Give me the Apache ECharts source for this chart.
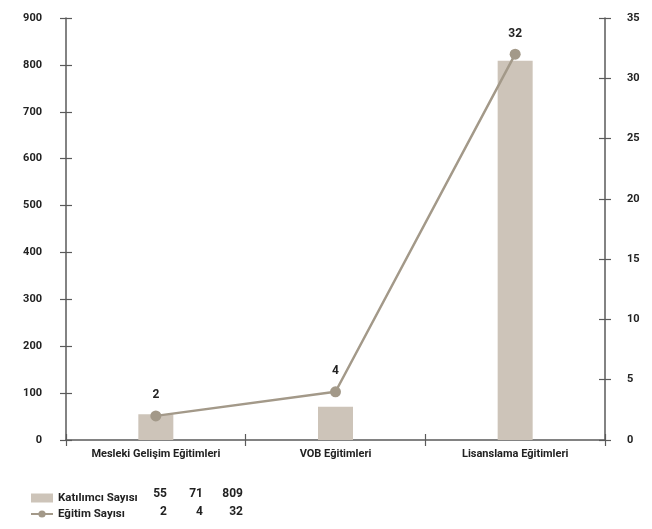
<!DOCTYPE html>
<html><head><meta charset="utf-8">
<script src="https://cdn.jsdelivr.net/npm/echarts@6/dist/echarts.min.js"></script>
<style>html,body{margin:0;padding:0;background:#fff}#c{width:652px;height:529px}</style>
</head><body><div id="c"></div>
<script>
const categories = ['Mesleki Gelişim Eğitimleri', 'VOB Eğitimleri', 'Lisanslama Eğitimleri'];
const participants = [55, 71, 809];
const trainings = [2, 4, 32];
const seriesNames = ['Katılımcı Sayısı', 'Eğitim Sayısı'];

const FONT = 'Roboto, sans-serif';
const W = 'bold';
const BAR = '#cdc4b9';
const LINE = '#a39989';
const AX = '#5a5a5a';

const chart = echarts.init(document.getElementById('c'));
const colX = [167, 203, 243];
const rowY = [495, 513];
const tableTexts = [];
[participants, trainings].forEach((arr, r) => {
  arr.forEach((v, i) => {
    tableTexts.push({
      type: 'text', right: 652 - colX[i], top: rowY[r] - 7,
      style: { text: String(v), font: 'bold 12px ' + FONT, fill: '#222' }
    });
  });
});

const yBase = {
  type: 'value', splitLine: { show: false },
  axisLine: { show: true, lineStyle: { color: AX, width: 1.5 } },
  axisTick: { show: true, length: 6, lineStyle: { color: AX, width: 1.2 } },
  axisLabel: { fontFamily: FONT, fontWeight: W, fontSize: 11, color: '#222', padding: [0, 0, 10, 0] }
};

chart.setOption({
  animation: false,
  textStyle: { fontFamily: FONT },
  grid: { left: 66, right: 47, top: 18, bottom: 89 },
  legend: {
    orient: 'vertical', left: 25, top: 487, itemGap: 4, itemWidth: 22, itemHeight: 9,
    textStyle: { fontFamily: FONT, fontWeight: W, fontSize: 11.5, color: '#222' },
    data: [{ name: seriesNames[0], icon: 'rect' }, seriesNames[1]]
  },
  xAxis: [{
    type: 'category', data: categories,
    axisLine: { lineStyle: { color: AX, width: 1.5 } },
    axisTick: { show: true, length: 6, lineStyle: { color: AX, width: 1.2 } },
    axisLabel: { interval: 0, margin: 9, fontFamily: FONT, fontWeight: W, fontSize: 11, color: '#222' }
  }, {
    type: 'category', data: categories, position: 'bottom',
    axisLine: { show: false },
    axisTick: { show: true, inside: true, length: 6, lineStyle: { color: AX, width: 1.2 } },
    axisLabel: { show: false }
  }],
  yAxis: [
    Object.assign({}, yBase, { min: 0, max: 900, interval: 100, position: 'left',
      axisLabel: Object.assign({}, yBase.axisLabel, { margin: 24 }) }),
    Object.assign({}, yBase, { min: 0, max: 35, interval: 5, position: 'right',
      axisLabel: Object.assign({}, yBase.axisLabel, { margin: 22 }) }),
    Object.assign({}, yBase, { min: 0, max: 900, interval: 100, position: 'left',
      axisLine: { show: false }, axisLabel: { show: false },
      axisTick: { show: true, inside: true, length: 6, lineStyle: { color: AX, width: 1.2 } } }),
    Object.assign({}, yBase, { min: 0, max: 35, interval: 5, position: 'right',
      axisLine: { show: false }, axisLabel: { show: false },
      axisTick: { show: true, inside: true, length: 6, lineStyle: { color: AX, width: 1.2 } } })
  ],
  series: [{
    name: seriesNames[0], type: 'bar', data: participants, barWidth: 35,
    itemStyle: { color: BAR }
  }, {
    name: seriesNames[1], type: 'line', yAxisIndex: 1, data: trainings,
    symbol: 'circle', symbolSize: 11,
    lineStyle: { color: LINE, width: 2.5 }, itemStyle: { color: LINE },
    label: { show: true, position: 'top', distance: 9, fontFamily: FONT, fontWeight: W, fontSize: 12, color: '#222' }
  }],
  graphic: tableTexts
});
</script></body></html>
